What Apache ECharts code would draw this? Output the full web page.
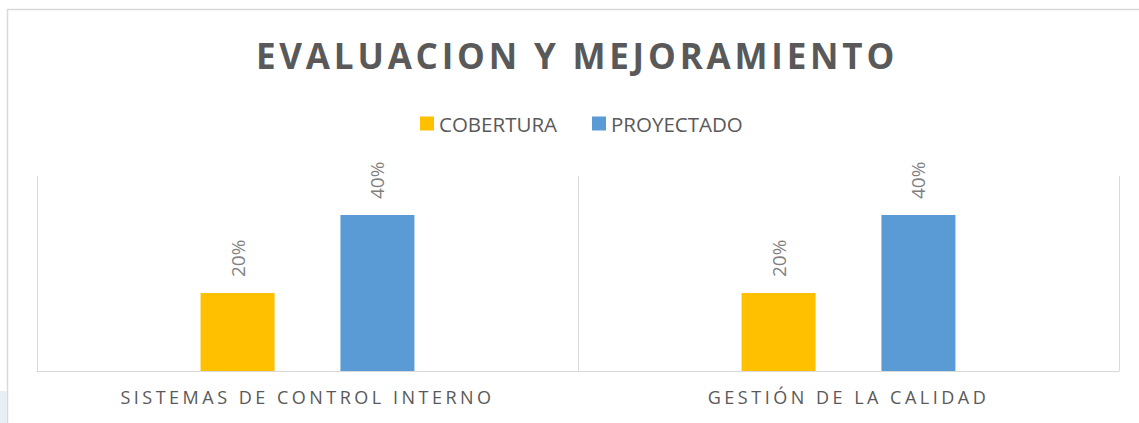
<!DOCTYPE html>
<html>
<head>
<meta charset="utf-8">
<title>Evaluacion y mejoramiento</title>
<script src="https://cdn.jsdelivr.net/npm/echarts@6/dist/echarts.min.js"></script>
<style>
  html, body { margin: 0; padding: 0; background: #fff; }
  #chart { width: 1139px; height: 423px; }
</style>
</head>
<body>
<div id="chart"></div>
<script>
// datos
const categories = ['SISTEMAS DE CONTROL INTERNO', 'GESTIÓN DE LA CALIDAD'];
const seriesNames = ['COBERTURA', 'PROYECTADO'];
const cobertura = [0.2, 0.2];
const proyectado = [0.4, 0.4];

const TITLE = 'EVALUACION Y MEJORAMIENTO';
const FONT = '"Open Sans", "DejaVu Sans", sans-serif';

const chart = echarts.init(document.getElementById('chart'), null, { renderer: 'svg' });

const barLabel = {
  show: true,
  position: 'top',
  rotate: 90,
  align: 'left',
  verticalAlign: 'middle',
  distance: 16,
  fontFamily: FONT,
  fontSize: 19,
  color: '#7f7f7f',
  formatter: (p) => Math.round(p.value * 100) + '%',
};

const option = {
  animation: false,
  backgroundColor: '#fff',
  title: {
    text: TITLE,
    left: 572,
    top: 50,
    textAlign: 'center',
    textVerticalAlign: 'middle',
    textStyle: {
      fontFamily: FONT,
      fontSize: 35,
      fontWeight: 'bold',
      color: '#595959',
    },
  },
  legend: {
    data: seriesNames,
    left: 415,
    top: 108,
    icon: 'rect',
    itemWidth: 14,
    itemHeight: 14,
    itemGap: 35,
    textStyle: {
      fontFamily: FONT,
      fontSize: 20.5,
      color: '#595959',
    },
  },
  grid: {
    left: 37,
    right: 20,
    top: 176,
    bottom: 52,
    outerBoundsMode: 'none',
  },
  xAxis: {
    type: 'category',
    data: categories,
    axisLine: { lineStyle: { color: '#d9d9d9', width: 1 } },
    axisTick: {
      show: true,
      inside: true,
      length: 195, // separadores verticales entre categorías
      interval: 0,
      lineStyle: { color: '#d9d9d9', width: 1 },
    },
    axisLabel: {
      interval: 0,
      margin: 17,
      fontFamily: FONT,
      fontSize: 18,
      color: '#595959',
    },
  },
  yAxis: {
    type: 'value',
    min: 0,
    max: 0.5,
    show: false,
  },
  series: [
    {
      name: seriesNames[0],
      type: 'bar',
      data: cobertura,
      barWidth: 74,
      barGap: '89%',
      itemStyle: { color: '#FFC000' },
      label: barLabel,
    },
    {
      name: seriesNames[1],
      type: 'bar',
      data: proyectado,
      barWidth: 74,
      barGap: '89%',
      itemStyle: { color: '#5B9BD5' },
      label: barLabel,
    },
  ],
  graphic: [
    {
      type: 'rect',
      silent: true,
      z: -10,
      shape: { x: 7.5, y: 9.5, width: 1200, height: 500 },
      style: { fill: 'none', stroke: '#d9d9d9', lineWidth: 1.5 },
    },
    {
      type: 'rect',
      silent: true,
      z: -10,
      shape: { x: 0, y: 391, width: 7, height: 40 },
      style: { fill: '#e9eef5' },
    },
  ],
};

chart.setOption(option);

// espaciado entre letras (como en Excel) para título y etiquetas del eje
function applySpacing() {
  document.querySelectorAll('#chart svg text').forEach((t) => {
    const s = t.textContent;
    if (s === TITLE) t.setAttribute('letter-spacing', '3.8px');
    else if (categories.indexOf(s) >= 0) t.setAttribute('letter-spacing', '3.5px');
  });
}
applySpacing();
chart.on('finished', applySpacing);
setTimeout(applySpacing, 50);
</script>
</body>
</html>
